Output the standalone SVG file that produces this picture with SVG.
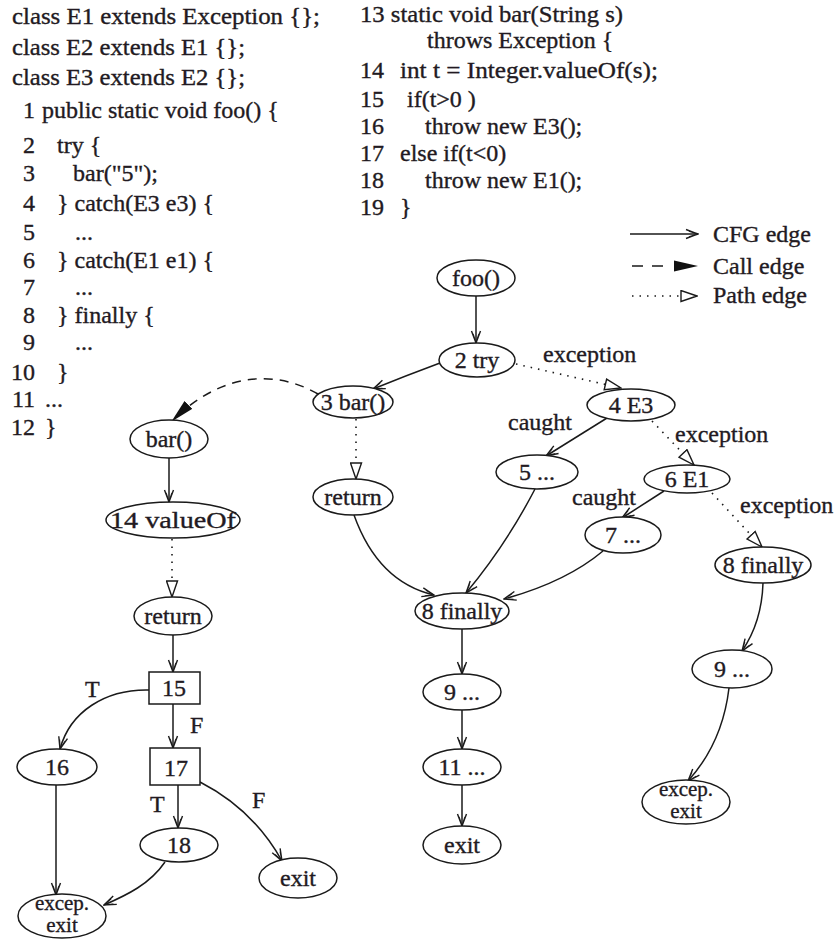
<svg xmlns="http://www.w3.org/2000/svg" width="839" height="941" viewBox="0 0 839 941">
<style>
text { font-family: "Liberation Serif", "Times New Roman", serif; fill: #221a22; stroke: #221a22; stroke-width: 0.35; }
.code { font-size: 24px; }
.lbl { font-size: 24px; }
.nt { font-size: 24px; text-anchor: middle; }
.nt2 { font-size: 21px; text-anchor: middle; }
.node ellipse, .node rect { fill: #fff; stroke: #1a1a1a; stroke-width: 1.5; }
.cfg { fill: none; stroke: #1a1a1a; stroke-width: 1.5; marker-end: url(#cfgArrow); }
.call { fill: none; stroke: #1a1a1a; stroke-width: 1.5; stroke-dasharray: 9 7; marker-end: url(#callArrow); }
.pth { fill: none; stroke: #1a1a1a; stroke-width: 1.6; stroke-dasharray: 1.5 6; marker-end: url(#pathArrow); }
</style>
<defs>
<marker id="cfgArrow" markerUnits="userSpaceOnUse" viewBox="0 0 14 12" markerWidth="14" markerHeight="12" refX="13" refY="6" orient="auto">
<path d="M1,1.5 L13,6 L1,10.5 M4,3 L13,6 L4,9" fill="none" stroke="#1a1a1a" stroke-width="1.4"/>
</marker>
<marker id="callArrow" markerUnits="userSpaceOnUse" viewBox="0 0 24 12" markerWidth="24" markerHeight="12" refX="23" refY="6" orient="auto">
<path d="M0,0.5 L24,6 L0,11.5 Z" fill="#111"/>
</marker>
<marker id="pathArrow" markerUnits="userSpaceOnUse" viewBox="0 0 18 13" markerWidth="18" markerHeight="13" refX="17" refY="6.5" orient="auto">
<path d="M1,1 L17,6.5 L1,12 Z" fill="#fff" stroke="#1a1a1a" stroke-width="1.4"/>
</marker>
</defs>

<g id="code-left" class="code">
<text x="12" y="24" textLength="308" lengthAdjust="spacingAndGlyphs">class E1 extends Exception {};</text>
<text x="12" y="55" textLength="233" lengthAdjust="spacingAndGlyphs">class E2 extends E1 {};</text>
<text x="12" y="85" textLength="233" lengthAdjust="spacingAndGlyphs">class E3 extends E2 {};</text>
<text x="35" y="118" text-anchor="end">1</text><text x="42" y="118">public static void foo() {</text>
<text x="35" y="153" text-anchor="end">2</text><text x="57" y="153">try {</text>
<text x="35" y="181" text-anchor="end">3</text><text x="73" y="181">bar("5");</text>
<text x="35" y="211" text-anchor="end">4</text><text x="57" y="211">} catch(E3 e3) {</text>
<text x="35" y="240" text-anchor="end">5</text><text x="75" y="240">...</text>
<text x="35" y="268" text-anchor="end">6</text><text x="57" y="268">} catch(E1 e1) {</text>
<text x="35" y="295" text-anchor="end">7</text><text x="75" y="295">...</text>
<text x="35" y="323" text-anchor="end">8</text><text x="57" y="323">} finally {</text>
<text x="35" y="350" text-anchor="end">9</text><text x="75" y="350">...</text>
<text x="35" y="380" text-anchor="end">10</text><text x="57" y="380">}</text>
<text x="35" y="407" text-anchor="end">11</text><text x="45" y="407">...</text>
<text x="35" y="435" text-anchor="end">12</text><text x="45" y="435">}</text>
</g>

<g id="code-right" class="code">
<text x="360" y="22" textLength="263" lengthAdjust="spacingAndGlyphs">13 static void bar(String s)</text>
<text x="427" y="48">throws Exception {</text>
<text x="360" y="78">14</text><text x="400" y="78" textLength="258" lengthAdjust="spacingAndGlyphs">int t = Integer.valueOf(s);</text>
<text x="360" y="107">15</text><text x="407" y="107">if(t&gt;0 )</text>
<text x="360" y="134">16</text><text x="425" y="134">throw new E3();</text>
<text x="360" y="161">17</text><text x="400" y="161">else if(t&lt;0)</text>
<text x="360" y="188">18</text><text x="425" y="188">throw new E1();</text>
<text x="360" y="215">19</text><text x="400" y="215">}</text>
</g>

<g id="legend">
<path d="M630,234 L698,234" class="cfg"/>
<text class="lbl" x="713" y="242">CFG edge</text>
<path d="M632,266 L672,266" fill="none" stroke="#1a1a1a" stroke-width="1.6" stroke-dasharray="11 9"/>
<path d="M673,266 L697,266" fill="none" stroke="none" marker-end="url(#callArrow)"/>
<text class="lbl" x="713" y="274">Call edge</text>
<path d="M632,296 L697,296" class="pth"/>
<text class="lbl" x="713" y="303">Path edge</text>
</g>

<g id="edges">
<path class="cfg" d="M476,296 L476,343"/>
<path class="cfg" d="M440,363 Q405,376 373,389"/>
<path class="cfg" d="M169,458 L169,502"/>
<path class="cfg" d="M173,635 L173,672"/>
<path class="cfg" d="M149,690 C105,689 70,712 60,749"/>
<path class="cfg" d="M173,704 L173,748"/>
<path class="cfg" d="M178,785 L178,828"/>
<path class="cfg" d="M200,782 C235,800 262,825 282,861"/>
<path class="cfg" d="M56,785 L56,895"/>
<path class="cfg" d="M165,862 C150,884 127,895 104,905"/>
<path class="cfg" d="M354,515 Q378,582 434,595"/>
<path class="cfg" d="M535,489 Q506,545 466,593"/>
<path class="cfg" d="M603,551 Q566,582 504,599"/>
<path class="cfg" d="M607,418 L546,456"/>
<path class="cfg" d="M664,491 L622,518"/>
<path class="cfg" d="M462,629 L462,674"/>
<path class="cfg" d="M462,710 L462,749"/>
<path class="cfg" d="M462,785 L462,826"/>
<path class="cfg" d="M763,583 C762,615 753,635 742,651"/>
<path class="cfg" d="M729,688 C724,730 707,760 688,781"/>
<path class="call" d="M318,394 C280,372 226,368 172,421"/>
<path class="pth" d="M516,364 L621,388"/>
<path class="pth" d="M356,419 L356,479"/>
<path class="pth" d="M172,539 L172,597"/>
<path class="pth" d="M652,421 L694,465"/>
<path class="pth" d="M712,493 L762,547"/>
</g>

<g id="edge-labels" class="lbl">
<text x="543" y="362">exception</text>
<text x="675" y="442">exception</text>
<text x="740" y="513">exception</text>
<text x="508" y="430">caught</text>
<text x="572" y="505">caught</text>
<text x="85" y="697">T</text>
<text x="190" y="733">F</text>
<text x="150" y="812">T</text>
<text x="252" y="808">F</text>
</g>

<g id="n-foo" class="node"><ellipse cx="476" cy="278" rx="39" ry="18"/><text class="nt" x="476" y="286">foo()</text></g>
<g id="n-2try" class="node"><ellipse cx="477" cy="360" rx="38" ry="17"/><text class="nt" x="477" y="368">2 try</text></g>
<g id="n-3bar" class="node"><ellipse cx="353" cy="402" rx="40" ry="16"/><text class="nt" x="353" y="410">3 bar()</text></g>
<g id="n-4E3" class="node"><ellipse cx="631" cy="405" rx="44" ry="16"/><text class="nt" x="631" y="413">4 E3</text></g>
<g id="n-bar" class="node"><ellipse cx="169" cy="439" rx="39" ry="19"/><text class="nt" x="169" y="447">bar()</text></g>
<g id="n-return-mid" class="node"><ellipse cx="353" cy="497" rx="40" ry="18"/><text class="nt" x="353" y="505">return</text></g>
<g id="n-5" class="node"><ellipse cx="537" cy="472" rx="41" ry="17"/><text class="nt" x="537" y="480">5 ...</text></g>
<g id="n-6E1" class="node"><ellipse cx="687" cy="479" rx="43" ry="14"/><text class="nt" x="687" y="487">6 E1</text></g>
<g id="n-7" class="node"><ellipse cx="623" cy="535" rx="38" ry="18"/><text class="nt" x="623" y="543">7 ...</text></g>
<g id="n-14valueOf" class="node"><ellipse cx="173" cy="520" rx="67" ry="18"/><text class="nt" x="173" y="528" textLength="126" lengthAdjust="spacingAndGlyphs">14 valueOf</text></g>
<g id="n-8finally-right" class="node"><ellipse cx="763" cy="565" rx="48" ry="18"/><text class="nt" x="763" y="573">8 finally</text></g>
<g id="n-8finally-mid" class="node"><ellipse cx="462" cy="611" rx="47" ry="18"/><text class="nt" x="462" y="619">8 finally</text></g>
<g id="n-return-left" class="node"><ellipse cx="173" cy="616" rx="39" ry="19"/><text class="nt" x="173" y="624">return</text></g>
<g id="n-15" class="node"><rect x="149" y="672" width="51" height="32"/><text class="nt" x="174" y="696">15</text></g>
<g id="n-16" class="node"><ellipse cx="57" cy="767" rx="40" ry="18"/><text class="nt" x="57" y="775">16</text></g>
<g id="n-17" class="node"><rect x="150" y="748" width="50" height="37"/><text class="nt" x="176" y="776">17</text></g>
<g id="n-18" class="node"><ellipse cx="179" cy="845" rx="39" ry="17"/><text class="nt" x="179" y="853">18</text></g>
<g id="n-exit-left" class="node"><ellipse cx="298" cy="878" rx="39" ry="20"/><text class="nt" x="298" y="886">exit</text></g>
<g id="n-excep-exit-left" class="node"><ellipse cx="62" cy="916" rx="44" ry="22"/><text class="nt2" x="62" y="910">excep.</text><text class="nt2" x="62" y="932">exit</text></g>
<g id="n-9-mid" class="node"><ellipse cx="462" cy="692" rx="39" ry="18"/><text class="nt" x="462" y="700">9 ...</text></g>
<g id="n-11-mid" class="node"><ellipse cx="462" cy="767" rx="39" ry="18"/><text class="nt" x="462" y="775">11 ...</text></g>
<g id="n-exit-mid" class="node"><ellipse cx="462" cy="845" rx="39" ry="19"/><text class="nt" x="462" y="853">exit</text></g>
<g id="n-9-right" class="node"><ellipse cx="732" cy="669" rx="40" ry="19"/><text class="nt" x="732" y="677">9 ...</text></g>
<g id="n-excep-exit-right" class="node"><ellipse cx="686" cy="802" rx="44" ry="22"/><text class="nt2" x="686" y="796">excep.</text><text class="nt2" x="686" y="818">exit</text></g>
</svg>
